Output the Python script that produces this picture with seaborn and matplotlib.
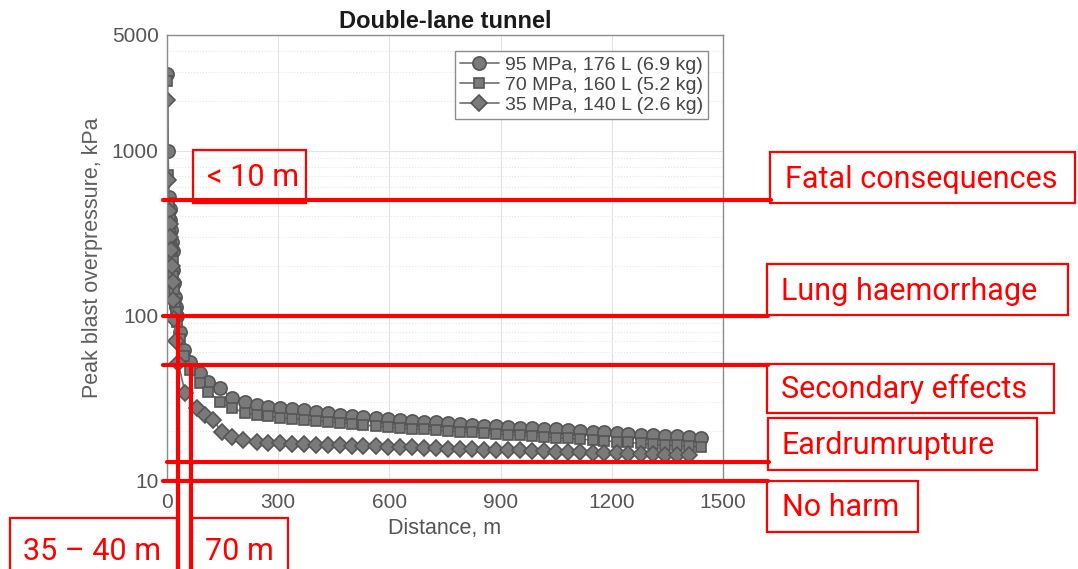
import numpy as np
import pandas as pd
import matplotlib
matplotlib.use('Agg')
import matplotlib.pyplot as plt
import seaborn as sns
from matplotlib.patches import Rectangle
from matplotlib.ticker import LogLocator, NullFormatter, FixedLocator
from matplotlib.transforms import blended_transform_factory

sns.set_style('whitegrid')
plt.rcParams['font.family'] = ['Liberation Sans', 'DejaVu Sans']

# ---- data ----
series_names = ['95 MPa, 176 L (6.9 kg)', '70 MPa, 160 L (5.2 kg)', '35 MPa, 140 L (2.6 kg)']

dist_95 = [1, 3, 5, 7, 9, 11, 13, 15, 17, 19, 21, 24, 28, 35, 45, 62, 89, 111, 143, 175,
           210, 243, 272, 305, 338, 370, 402, 434, 466, 498, 530, 563, 595, 628, 660, 693,
           725, 758, 790, 823, 855, 888, 920, 953, 985, 1018, 1050, 1083, 1115, 1148, 1180,
           1213, 1245, 1278, 1310, 1343, 1375, 1408, 1440]
press_95 = [2900, 1000, 520, 440, 380, 330, 280, 245, 190, 158, 130, 113, 100, 80, 62, 52.6,
            45.1, 39.8, 36.6, 31.8, 30.1, 28.9, 28.1, 27.7, 27.3, 26.9, 26.2, 25.8, 25.1, 24.8,
            24.5, 24.1, 23.8, 23.4, 23.1, 22.8, 22.6, 22.3, 22.0, 21.8, 21.6, 21.4, 21.2, 21.0,
            20.9, 20.7, 20.5, 20.3, 20.1, 19.9, 19.7, 19.5, 19.3, 19.1, 18.9, 18.8, 18.6, 18.4,
            18.3]

dist_70 = dist_95
press_70 = [2620, 715, 480, 400, 345, 300, 255, 215, 175, 145, 120, 105, 92, 72, 57, 47,
            39.2, 34.6, 30.1, 27.7, 25.8, 25.2, 24.7, 24.1, 23.8, 23.5, 23.2, 22.9, 22.5, 22.2,
            21.8, 21.5, 21.2, 20.9, 20.7, 20.5, 20.3, 20.1, 19.9, 19.7, 19.5, 19.3, 19.1, 18.9,
            18.7, 18.5, 18.3, 18.1, 17.9, 17.7, 17.5, 17.3, 17.1, 16.9, 16.7, 16.5, 16.4, 16.2,
            16.1]

dist_35 = [1, 3, 5, 7, 9, 11, 13, 15, 17, 20, 25, 30, 49, 81, 103, 124, 148, 175, 205, 243,
           272, 305, 338, 370, 402, 434, 466, 498, 530, 563, 595, 628, 660, 693, 725, 758,
           790, 823, 855, 888, 920, 953, 985, 1018, 1050, 1083, 1115, 1148, 1180, 1213, 1245,
           1278, 1310, 1343, 1375, 1408]
press_35 = [2030, 667, 430, 360, 300, 250, 200, 160, 125, 95, 70, 52, 34.1, 27.7, 25.1, 23.4,
            19.8, 18.5, 17.7, 17.2, 17.0, 17.0, 16.8, 16.8, 16.5, 16.5, 16.4, 16.3,
            16.3, 16.2, 16.1, 16.0, 16.0, 15.9, 15.8, 15.7, 15.6, 15.6, 15.5, 15.4, 15.3, 15.3,
            15.2, 15.1, 15.0, 14.9, 14.9, 14.8, 14.7, 14.7, 14.6, 14.5, 14.5, 14.4, 14.3, 14.3]

# harm thresholds (kPa) and distance markers (m)
threshold_kpa = [500, 100, 50, 13, 10]
threshold_labels = ['Fatal consequences', 'Lung haemorrhage', 'Secondary effects',
                    'Eardrumrupture', 'No harm']
range_dist = [30, 64]
range_from_kpa = [100, 50]
range_labels = ['35 – 40 m', '70 m']
near_label = '< 10 m'

df = pd.concat([
    pd.DataFrame({'distance': dist_95, 'pressure': press_95, 'case': series_names[0]}),
    pd.DataFrame({'distance': dist_70, 'pressure': press_70, 'case': series_names[1]}),
    pd.DataFrame({'distance': dist_35, 'pressure': press_35, 'case': series_names[2]}),
], ignore_index=True)

W, H = 1078, 569
fig = plt.figure(figsize=(W / 100, H / 100), dpi=100)
ax = fig.add_axes([167 / W, 1 - 481 / H, 556 / W, 446 / H])

sns.lineplot(data=df, x='distance', y='pressure', hue='case', style='case',
             markers={series_names[0]: 'o', series_names[1]: 's', series_names[2]: 'D'},
             dashes=False, palette={n: '#6e6e6e' for n in series_names},
             sort=False, estimator=None, markersize=9.5, markeredgecolor='#555555',
             markerfacecolor='#7a7a7a', markeredgewidth=1.2, linewidth=1.2, ax=ax)

# squares and diamonds read a little smaller than the circles
size_by_marker = {'s': 7.5, 'D': 8.0}
for ln in ax.lines:
    m = ln.get_marker()
    if m in size_by_marker:
        ln.set_markersize(size_by_marker[m])

ax.set_yscale('log')
ax.set_xlim(0, 1500)
ax.set_ylim(10, 5000)
ax.set_xticks(range(0, 1501, 300))
ax.yaxis.set_major_locator(FixedLocator([10, 100, 1000, 5000]))
ax.set_yticklabels(['10', '100', '1000', '5000'])
ax.yaxis.set_minor_locator(LogLocator(base=10, subs=range(2, 10)))
ax.yaxis.set_minor_formatter(NullFormatter())

ax.grid(True, which='major', color='#e3e3e3', linewidth=0.8)
ax.grid(True, which='minor', axis='y', color='#e6e6e6', linewidth=0.8, linestyle=':')
for s in ax.spines.values():
    s.set_color('#8c8c8c')
    s.set_linewidth(1.0)
ax.tick_params(axis='both', which='both', direction='in', colors='#8c8c8c',
               labelcolor='#555555', labelsize=15, length=4)
ax.tick_params(axis='x', pad=9)
ax.tick_params(axis='y', pad=6)
ax.tick_params(axis='y', which='minor', length=2)

ax.set_xlabel('Distance, m', fontsize=15.5, color='#555555', labelpad=4)
ax.set_ylabel('Peak blast overpressure, kPa', fontsize=15.5, color='#5e5e5e', labelpad=6)
ax.set_title('Double-lane tunnel', fontsize=17, fontweight='bold', color='#1a1a1a', pad=5)

handles, labels = ax.get_legend_handles_labels()
leg = ax.legend(handles, labels, loc='upper right', fontsize=14, frameon=True,
                fancybox=False, edgecolor='#8c8c8c', framealpha=1, borderpad=0.25,
                labelspacing=0.12, handlelength=2.0, handletextpad=0.3,
                bbox_to_anchor=(0.99, 0.985))
for t in leg.get_texts():
    t.set_color('#444444')

# ---- red annotation overlay ----
red = '#ff0000'
hx = blended_transform_factory(ax.transAxes, ax.transData)
line_start = [-0.007, -0.007, -0.007, 0.0, -0.007]
line_end = [1.086, 1.081, 1.081, 1.083, 1.081]
for val, x0, x1 in zip(threshold_kpa, line_start, line_end):
    ax.plot([x0, x1], [val, val], color=red, lw=3, transform=hx, clip_on=False, zorder=10)

for d, top in zip(range_dist, range_from_kpa):
    ax.plot([d, d], [top, 2.6], color=red, lw=3, clip_on=False, zorder=10)

red_font = dict(color=red, fontsize=22, fontweight='normal',
                family=['Roboto', 'DejaVu Sans'], zorder=12)


def red_box(x0, y0, x1, y1, text, tx, base=None):
    fig.add_artist(Rectangle((x0 / W, 1 - y1 / H), (x1 - x0) / W, (y1 - y0) / H,
                             transform=fig.transFigure, fill=False, ec=red, lw=1.6,
                             clip_on=False, zorder=11))
    if base is None:
        base = (y0 + y1) / 2 + 10
    fig.text(tx / W, 1 - base / H, text, ha='left', va='baseline', **red_font)


right_boxes = [(770, 152, 1075, 203, 785), (767, 264, 1068, 315, 781),
               (767, 364, 1054, 413, 781), (768, 418, 1037, 470, 782),
               (767, 481, 918, 532, 782)]
for (x0, y0, x1, y1, tx), lab in zip(right_boxes, threshold_labels):
    red_box(x0, y0, x1, y1, lab, tx)

red_box(193, 150, 306, 203, near_label, 207)
bottom_boxes = [(10, 518, 177, 600, 23), (192, 518, 288, 600, 205)]
for (x0, y0, x1, y1, tx), lab in zip(bottom_boxes, range_labels):
    red_box(x0, y0, x1, y1, lab, tx, base=560)

fig.savefig('out.png', dpi=100)
